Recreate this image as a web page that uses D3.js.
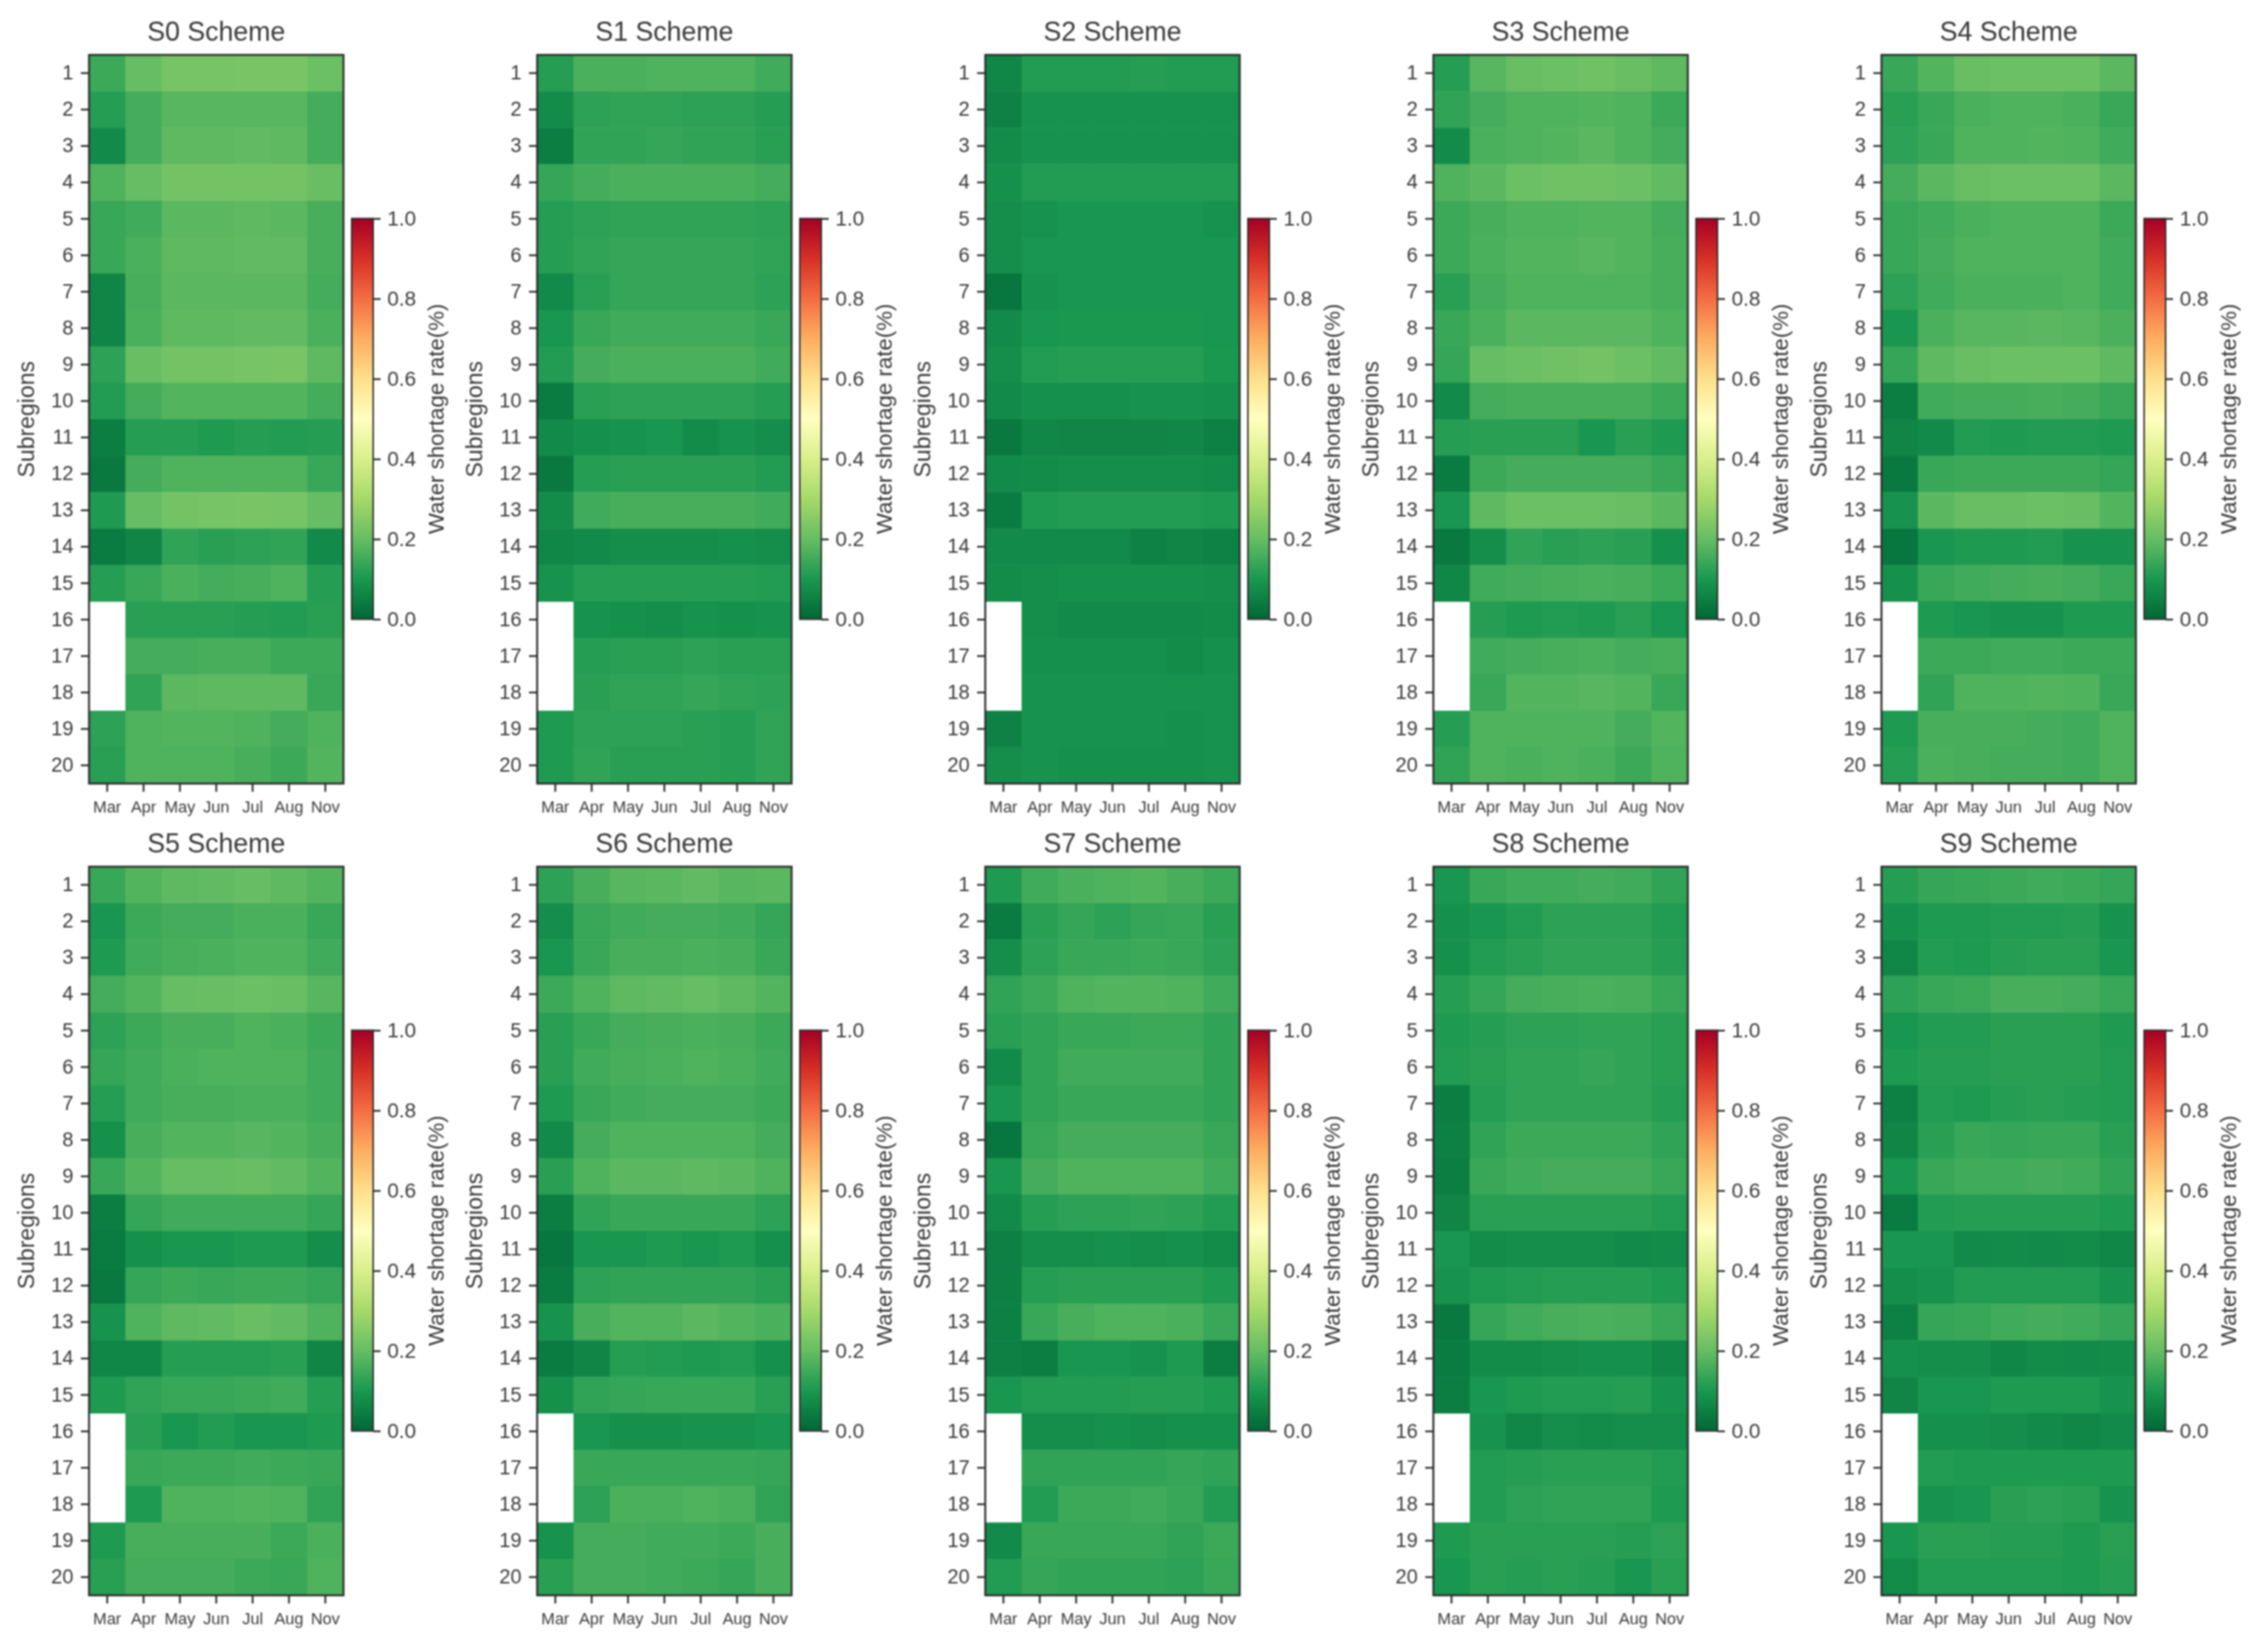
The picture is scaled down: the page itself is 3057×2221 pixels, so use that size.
<!DOCTYPE html>
<html>
<head>
<meta charset="utf-8">
<title>Water shortage rate by scheme</title>
<script src="https://cdn.jsdelivr.net/npm/d3@7"></script>
<style>
  html, body { margin: 0; background: #fff; }
  svg { display: block; filter: blur(1.1px); }
  text { font-family: "Liberation Sans", Arial, sans-serif; fill: #3a3a3a; }
</style>
</head>
<body>
<div id="viz"></div>
<script>
const months = ["Mar", "Apr", "May", "Jun", "Jul", "Aug", "Nov"];
const subregions = d3.range(1, 21);
const schemes = ["S0", "S1", "S2", "S3", "S4", "S5", "S6", "S7", "S8", "S9"];
const barTicks = [0, 0.2, 0.4, 0.6, 0.8, 1];
// matplotlib RdYlGn_r stops
const cmap = ["#006837", "#1a9850", "#66bd63", "#a6d96a", "#d9ef8b", "#ffffbf", "#fee08b", "#fdae61", "#f46d43", "#d73027", "#a50026"];

// one row per subregion, one column per month, null = no data
const s0 = [
  [.145, .20, .225, .225, .23, .23, .21],
  [.115, .155, .18, .18, .18, .18, .155],
  [.07, .155, .19, .19, .195, .19, .155],
  [.17, .20, .22, .22, .22, .22, .205],
  [.14, .15, .185, .185, .19, .185, .16],
  [.14, .165, .19, .19, .195, .195, .16],
  [.06, .16, .185, .185, .185, .185, .155],
  [.06, .165, .19, .19, .195, .195, .165],
  [.125, .205, .22, .22, .225, .23, .19],
  [.11, .155, .175, .175, .175, .175, .155],
  [.045, .115, .115, .105, .115, .11, .115],
  [.035, .155, .17, .17, .17, .17, .14],
  [.105, .20, .22, .225, .23, .225, .20],
  [.04, .06, .13, .12, .125, .13, .07],
  [.115, .14, .165, .155, .16, .17, .115],
  [null, .12, .12, .12, .115, .11, .12],
  [null, .155, .155, .16, .16, .145, .145],
  [null, .13, .185, .19, .19, .19, .14],
  [.125, .17, .175, .175, .17, .155, .17],
  [.12, .17, .17, .17, .16, .145, .175]
];
const s1 = [
  [.115, .165, .165, .17, .17, .17, .15],
  [.075, .125, .13, .13, .125, .125, .115],
  [.045, .13, .13, .135, .13, .13, .12],
  [.135, .155, .165, .165, .165, .165, .155],
  [.115, .125, .13, .13, .13, .13, .125],
  [.115, .13, .135, .135, .135, .135, .13],
  [.07, .12, .135, .135, .135, .135, .125],
  [.095, .14, .15, .15, .15, .15, .14],
  [.11, .155, .165, .165, .165, .165, .15],
  [.04, .12, .125, .125, .125, .125, .115],
  [.07, .085, .09, .095, .075, .09, .08],
  [.035, .115, .12, .12, .12, .12, .11],
  [.075, .15, .16, .16, .16, .16, .15],
  [.065, .07, .08, .08, .08, .085, .08],
  [.09, .115, .115, .115, .115, .115, .11],
  [null, .09, .085, .08, .09, .085, .09],
  [null, .115, .12, .12, .125, .12, .12],
  [null, .12, .13, .13, .135, .13, .125],
  [.105, .125, .125, .125, .12, .115, .13],
  [.105, .13, .12, .12, .12, .115, .13]
];
const s2 = [
  [.065, .11, .11, .11, .115, .11, .11],
  [.055, .09, .09, .09, .09, .09, .09],
  [.075, .09, .09, .09, .09, .09, .09],
  [.085, .11, .11, .11, .11, .11, .11],
  [.08, .09, .095, .095, .095, .095, .09],
  [.08, .095, .095, .095, .095, .095, .095],
  [.03, .09, .095, .095, .095, .095, .095],
  [.07, .095, .10, .10, .10, .10, .095],
  [.08, .11, .115, .115, .115, .115, .10],
  [.07, .085, .085, .085, .09, .09, .085],
  [.035, .065, .06, .06, .06, .065, .05],
  [.07, .075, .08, .08, .08, .08, .075],
  [.04, .105, .11, .11, .11, .11, .105],
  [.07, .07, .07, .07, .055, .06, .055],
  [.075, .08, .085, .085, .085, .085, .08],
  [null, .08, .07, .07, .07, .07, .075],
  [null, .085, .085, .085, .085, .075, .085],
  [null, .09, .09, .09, .09, .09, .09],
  [.055, .09, .09, .09, .09, .085, .09],
  [.08, .09, .085, .085, .085, .085, .09]
];
const s3 = [
  [.115, .18, .205, .21, .215, .205, .19],
  [.13, .155, .17, .17, .175, .17, .145],
  [.075, .165, .17, .175, .185, .17, .155],
  [.17, .185, .21, .215, .215, .21, .195],
  [.145, .16, .17, .17, .175, .175, .155],
  [.145, .165, .175, .175, .18, .175, .16],
  [.12, .155, .17, .17, .17, .17, .16],
  [.14, .165, .185, .185, .185, .185, .17],
  [.135, .20, .21, .215, .22, .21, .195],
  [.07, .155, .16, .16, .16, .16, .145],
  [.115, .12, .12, .12, .095, .12, .105],
  [.04, .145, .155, .155, .155, .155, .14],
  [.095, .19, .21, .21, .21, .205, .185],
  [.035, .08, .13, .12, .125, .12, .085],
  [.065, .15, .155, .16, .165, .16, .145],
  [null, .115, .105, .11, .105, .12, .095],
  [null, .15, .155, .16, .165, .155, .16],
  [null, .14, .175, .175, .18, .175, .14],
  [.115, .17, .17, .17, .17, .155, .175],
  [.13, .17, .165, .17, .165, .145, .17]
];
const s4 = [
  [.14, .175, .205, .21, .21, .21, .185],
  [.12, .14, .165, .17, .17, .165, .14],
  [.125, .14, .17, .17, .175, .17, .15],
  [.155, .185, .205, .21, .21, .21, .185],
  [.14, .15, .165, .17, .17, .17, .145],
  [.14, .155, .17, .17, .17, .17, .15],
  [.125, .15, .165, .165, .165, .17, .15],
  [.095, .165, .18, .18, .185, .18, .165],
  [.135, .19, .205, .21, .21, .21, .19],
  [.045, .15, .155, .155, .16, .155, .14],
  [.06, .07, .11, .105, .11, .11, .105],
  [.035, .14, .145, .145, .145, .145, .135],
  [.09, .185, .205, .205, .21, .205, .175],
  [.03, .095, .105, .105, .11, .09, .09],
  [.085, .14, .15, .155, .16, .155, .14],
  [null, .105, .095, .09, .09, .105, .105],
  [null, .145, .145, .15, .15, .145, .145],
  [null, .13, .17, .17, .175, .17, .14],
  [.105, .16, .16, .16, .155, .15, .17],
  [.115, .165, .16, .155, .155, .15, .17]
];
const s5 = [
  [.14, .175, .19, .195, .20, .19, .175],
  [.095, .145, .155, .155, .165, .165, .14],
  [.105, .15, .16, .165, .17, .17, .15],
  [.155, .175, .20, .205, .21, .205, .18],
  [.125, .145, .16, .16, .17, .165, .145],
  [.135, .15, .165, .17, .17, .17, .15],
  [.115, .15, .16, .16, .165, .165, .15],
  [.085, .16, .175, .175, .18, .175, .16],
  [.14, .175, .20, .20, .205, .195, .175],
  [.045, .135, .15, .15, .15, .15, .135],
  [.04, .085, .095, .095, .105, .105, .08],
  [.035, .135, .145, .14, .145, .145, .135],
  [.09, .17, .19, .195, .205, .195, .17],
  [.065, .065, .115, .115, .115, .12, .06],
  [.105, .13, .14, .14, .145, .15, .115],
  [null, .12, .095, .11, .095, .095, .105],
  [null, .14, .145, .145, .15, .145, .14],
  [null, .105, .17, .17, .175, .17, .13],
  [.105, .16, .16, .16, .16, .145, .165],
  [.12, .155, .155, .155, .145, .14, .17]
];
const s6 = [
  [.125, .16, .18, .185, .195, .18, .185],
  [.08, .14, .15, .155, .155, .15, .135],
  [.095, .14, .16, .16, .165, .16, .14],
  [.145, .17, .19, .195, .20, .19, .175],
  [.12, .14, .155, .16, .165, .16, .145],
  [.12, .15, .16, .165, .17, .165, .15],
  [.105, .14, .15, .155, .155, .155, .145],
  [.07, .155, .17, .17, .17, .17, .155],
  [.12, .17, .185, .185, .19, .185, .17],
  [.045, .13, .14, .14, .14, .14, .125],
  [.03, .095, .095, .105, .095, .105, .085],
  [.04, .125, .13, .13, .13, .13, .12],
  [.09, .16, .175, .175, .185, .175, .165],
  [.04, .06, .115, .11, .105, .11, .085],
  [.085, .13, .135, .14, .14, .14, .12],
  [null, .095, .085, .085, .09, .09, .095],
  [null, .14, .14, .14, .14, .14, .135],
  [null, .125, .165, .165, .17, .165, .13],
  [.09, .155, .155, .15, .15, .145, .16],
  [.12, .155, .155, .15, .145, .135, .16]
];
const s7 = [
  [.105, .15, .165, .17, .175, .16, .145],
  [.04, .12, .135, .125, .135, .14, .12],
  [.08, .125, .14, .14, .145, .14, .125],
  [.13, .145, .17, .175, .175, .17, .15],
  [.12, .13, .14, .14, .145, .145, .13],
  [.07, .13, .15, .15, .15, .15, .13],
  [.095, .13, .14, .14, .14, .14, .13],
  [.03, .14, .155, .155, .155, .155, .14],
  [.095, .155, .17, .17, .17, .17, .15],
  [.07, .115, .125, .125, .13, .125, .11],
  [.05, .08, .08, .085, .08, .085, .075],
  [.05, .115, .12, .12, .12, .12, .105],
  [.05, .14, .16, .17, .17, .165, .14],
  [.05, .045, .095, .095, .09, .105, .045],
  [.095, .11, .11, .11, .115, .115, .105],
  [null, .08, .08, .085, .08, .085, .085],
  [null, .13, .13, .13, .13, .135, .13],
  [null, .11, .145, .145, .15, .14, .11],
  [.07, .14, .14, .14, .14, .13, .145],
  [.11, .135, .13, .13, .13, .125, .14]
];
const s8 = [
  [.095, .14, .15, .15, .155, .15, .13],
  [.085, .095, .11, .125, .125, .125, .11],
  [.085, .11, .12, .13, .13, .13, .115],
  [.115, .135, .155, .16, .165, .16, .14],
  [.105, .115, .125, .125, .13, .13, .12],
  [.11, .12, .13, .13, .135, .13, .12],
  [.045, .115, .13, .13, .13, .13, .115],
  [.05, .13, .145, .145, .145, .145, .13],
  [.045, .14, .15, .155, .155, .155, .14],
  [.06, .12, .12, .12, .12, .12, .11],
  [.095, .075, .08, .08, .08, .07, .075],
  [.09, .105, .11, .115, .115, .115, .105],
  [.035, .135, .15, .16, .165, .16, .14],
  [.04, .075, .075, .08, .085, .085, .065],
  [.045, .095, .105, .11, .11, .115, .09],
  [null, .09, .065, .08, .075, .08, .08],
  [null, .11, .115, .12, .12, .12, .11],
  [null, .11, .125, .13, .13, .13, .105],
  [.105, .12, .12, .12, .12, .115, .125],
  [.095, .12, .115, .12, .115, .095, .12]
];
const s9 = [
  [.115, .135, .14, .145, .15, .145, .135],
  [.085, .105, .105, .11, .11, .115, .09],
  [.065, .11, .105, .115, .12, .12, .095],
  [.125, .14, .145, .16, .16, .155, .14],
  [.095, .11, .11, .12, .12, .12, .105],
  [.105, .115, .115, .12, .12, .12, .11],
  [.05, .11, .105, .115, .12, .115, .11],
  [.06, .12, .14, .135, .14, .14, .12],
  [.095, .14, .15, .15, .155, .15, .13],
  [.04, .11, .115, .115, .115, .115, .105],
  [.095, .095, .07, .075, .07, .075, .065],
  [.08, .09, .11, .11, .11, .11, .09],
  [.05, .135, .14, .15, .155, .15, .135],
  [.085, .08, .08, .065, .075, .07, .075],
  [.06, .095, .095, .105, .105, .105, .09],
  [null, .085, .085, .08, .07, .065, .07],
  [null, .11, .105, .105, .105, .105, .105],
  [null, .09, .095, .12, .125, .12, .09],
  [.095, .12, .12, .115, .115, .105, .12],
  [.075, .11, .11, .11, .11, .105, .115]
];
const values = [s0, s1, s2, s3, s4, s5, s6, s7, s8, s9];

const fullWidth = 3057, fullHeight = 2221;
const panelW = 343, panelH = 982;
const barW = 29, barH = 540;
const inkDark = "#2b2b2b";

const color = d3.scaleLinear()
  .domain(cmap.map((c, i) => i / (cmap.length - 1)))
  .range(cmap)
  .interpolate(d3.interpolateRgb);

const svg = d3.select("#viz").append("svg")
  .attr("width", fullWidth)
  .attr("height", fullHeight);

const defs = svg.append("defs");
const grad = defs.append("linearGradient")
  .attr("id", "barGrad")
  .attr("x1", 0).attr("x2", 0).attr("y1", 1).attr("y2", 0);
grad.selectAll("stop")
  .data(cmap)
  .join("stop")
  .attr("offset", (d, i) => i / (cmap.length - 1))
  .attr("stop-color", d => d);

const x = d3.scaleBand().domain(months).range([0, panelW]);
const y = d3.scaleBand().domain(subregions).range([0, panelH]);
const barScale = d3.scaleLinear().domain([0, 1]).range([barH, 0]);

function styleAxis(g, size) {
  g.select(".domain").remove();
  g.selectAll("line").attr("stroke", inkDark).attr("stroke-width", 2.4);
  g.selectAll("text").style("font-size", size + "px").attr("fill", "#3a3a3a");
}

schemes.forEach((name, k) => {
  const col = k % 5, row = Math.floor(k / 5);
  const px = 120 + col * 604;
  const py = row === 0 ? 74 : 1168;
  const g = svg.append("g").attr("transform", `translate(${px},${py})`);

  values[k].forEach((cells, r) => {
    g.append("g").selectAll("rect")
      .data(cells.map((v, c) => ({ v, month: months[c] })).filter(d => d.v !== null))
      .join("rect")
      .attr("x", d => x(d.month))
      .attr("y", y(subregions[r]))
      .attr("width", x.bandwidth() + 0.5)
      .attr("height", y.bandwidth() + 0.5)
      .attr("fill", d => color(d.v));
  });

  g.append("rect")
    .attr("width", panelW)
    .attr("height", panelH)
    .attr("fill", "none")
    .attr("stroke", inkDark)
    .attr("stroke-width", 2.6);

  g.append("g")
    .call(d3.axisLeft(y).tickSize(11).tickPadding(10))
    .call(a => styleAxis(a, 27));

  g.append("g")
    .attr("transform", `translate(0,${panelH})`)
    .call(d3.axisBottom(x).tickSize(11).tickPadding(12))
    .call(a => styleAxis(a, 22));

  g.append("text")
    .attr("x", panelW / 2)
    .attr("y", -19)
    .attr("text-anchor", "middle")
    .style("font-size", "36px")
    .text(`${name} Scheme`);

  g.append("text")
    .attr("transform", `translate(-74,${panelH / 2}) rotate(-90)`)
    .attr("text-anchor", "middle")
    .style("font-size", "31px")
    .text("Subregions");

  // colorbar
  const bar = g.append("g").attr("transform", `translate(${panelW + 11},220.5)`);
  bar.append("rect")
    .attr("width", barW)
    .attr("height", barH)
    .attr("fill", "url(#barGrad)")
    .attr("stroke", inkDark)
    .attr("stroke-width", 2);
  bar.append("g")
    .attr("transform", `translate(${barW},0)`)
    .call(d3.axisRight(barScale).tickValues(barTicks).tickFormat(d3.format(".1f")).tickSize(10).tickPadding(9))
    .call(a => styleAxis(a, 28));
  bar.append("text")
    .attr("transform", `translate(${barW + 95},${barH / 2}) rotate(-90)`)
    .attr("text-anchor", "middle")
    .style("font-size", "30px")
    .text("Water shortage rate(%)");
});
</script>
</body>
</html>
